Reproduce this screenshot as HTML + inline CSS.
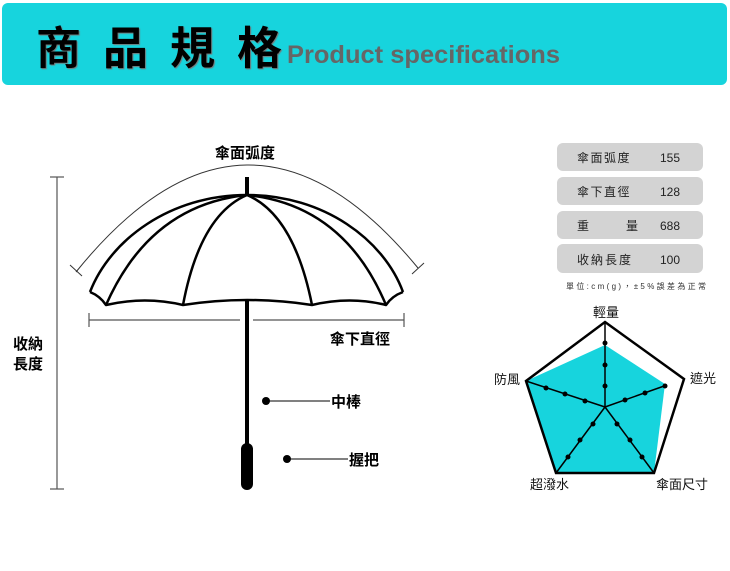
<!DOCTYPE html>
<html><head><meta charset="utf-8"><style>
body{margin:0;width:730px;height:566px;background:#fff;overflow:hidden;font-family:"Liberation Sans","Noto Sans CJK TC",sans-serif}
</style></head><body>
<svg width="730" height="566" viewBox="0 0 730 566" xmlns="http://www.w3.org/2000/svg" font-family="Liberation Sans, Noto Sans CJK TC, sans-serif">
<rect x="2" y="3" width="725" height="82" rx="6" fill="#17d4dd"/>
<text x="36" y="64" font-size="45" font-weight="bold" fill="#000" letter-spacing="22" font-family="Noto Sans CJK TC, sans-serif" style="text-shadow:1px 1px 1px #777">商品規格</text>
<text x="287" y="63" font-size="25" font-weight="bold" fill="#666" textLength="273" lengthAdjust="spacingAndGlyphs">Product specifications</text>

<!-- arc -->
<path d="M76,272 Q247,60 418,268" fill="none" stroke="#333" stroke-width="1"/>
<line x1="70" y1="265" x2="82" y2="276" stroke="#333"/>
<line x1="412" y1="274" x2="424" y2="263" stroke="#333"/>
<text x="215" y="158" font-size="15" font-weight="bold">傘面弧度</text>
<!-- tip -->
<line x1="247" y1="177" x2="247" y2="196" stroke="#000" stroke-width="4"/>
<!-- canopy -->
<g fill="none" stroke="#000" stroke-width="2.5" stroke-linejoin="round">
<path d="M90,292 C110,240 170,195 247,195 C324,195 384,240 403,292"/>
<path d="M90,292 Q100,296 106,305 Q145,296 183,305 Q247,295 312,305 Q350,296 386,305 Q392,296 403,292"/>
<path d="M106,305 Q150,205 247,195"/>
<path d="M386,305 Q344,205 247,195"/>
<path d="M183,305 Q200,215 247,195"/>
<path d="M312,305 Q294,215 247,195"/>
</g>
<!-- diameter -->
<g stroke="#555" stroke-width="1.2">
<line x1="89" y1="320" x2="240" y2="320"/><line x1="253" y1="320" x2="404" y2="320"/>
<line x1="89" y1="313" x2="89" y2="327"/><line x1="404" y1="313" x2="404" y2="327"/>
</g>
<text x="330" y="344" font-size="15" font-weight="bold">傘下直徑</text>
<!-- shaft -->
<line x1="247" y1="300" x2="247" y2="446" stroke="#000" stroke-width="4"/>
<rect x="241" y="443" width="12" height="47" rx="6" fill="#000"/>
<circle cx="266" cy="401" r="4" fill="#000"/><line x1="266" y1="401" x2="330" y2="401" stroke="#000"/>
<text x="331" y="407" font-size="15" font-weight="bold">中棒</text>
<circle cx="287" cy="459" r="4" fill="#000"/><line x1="287" y1="459" x2="348" y2="459" stroke="#000"/>
<text x="349" y="465" font-size="15" font-weight="bold">握把</text>
<!-- vertical -->
<g stroke="#555" stroke-width="1.2">
<line x1="57" y1="177" x2="57" y2="489"/><line x1="50" y1="177" x2="64" y2="177"/><line x1="50" y1="489" x2="64" y2="489"/>
</g>
<text x="13" y="349" font-size="15" font-weight="bold">收納</text>
<text x="13" y="369" font-size="15" font-weight="bold">長度</text>

<!-- table -->
<g font-size="12" fill="#222">
<rect x="557" y="143" width="146" height="28" rx="6" fill="#d3d3d3"/>
<text x="577" y="162" letter-spacing="1.5">傘面弧度</text><text x="660" y="162">155</text>
<rect x="557" y="177" width="146" height="28" rx="6" fill="#d3d3d3"/>
<text x="577" y="196" letter-spacing="1.5">傘下直徑</text><text x="660" y="196">128</text>
<rect x="557" y="211" width="146" height="28" rx="6" fill="#d3d3d3"/>
<text x="577" y="230">重</text><text x="626" y="230">量</text><text x="660" y="230">688</text>
<rect x="557" y="244" width="146" height="29" rx="6" fill="#d3d3d3"/>
<text x="577" y="264" letter-spacing="2">收納長度</text><text x="660" y="264">100</text>
</g>
<text x="566" y="289" font-size="8" fill="#333" textLength="140" lengthAdjust="spacing">單位:cm(g)，±5%誤差為正常</text>

<!-- radar -->
<polygon points="605,345 665,384 654,473 556,473 526,381" fill="#17d4dd"/>
<polygon points="605,322 684,379 654,473 556,473 526,381" fill="none" stroke="#000" stroke-width="2.5" stroke-linejoin="miter"/>
<g stroke="#000" stroke-width="1.5">
<line x1="605" y1="407" x2="605" y2="322"/><line x1="605" y1="407" x2="526" y2="381"/>
<line x1="605" y1="407" x2="667" y2="385"/><line x1="605" y1="407" x2="556" y2="473"/><line x1="605" y1="407" x2="654" y2="473"/>
</g>
<g fill="#000">
<circle cx="605" cy="386" r="2.5"/><circle cx="605" cy="365" r="2.5"/><circle cx="605" cy="343" r="2.5"/>
<circle cx="585" cy="401" r="2.5"/><circle cx="565" cy="394" r="2.5"/><circle cx="546" cy="388" r="2.5"/>
<circle cx="625" cy="400" r="2.5"/><circle cx="645" cy="393" r="2.5"/><circle cx="665" cy="386" r="2.5"/>
<circle cx="593" cy="424" r="2.5"/><circle cx="580" cy="440" r="2.5"/><circle cx="568" cy="457" r="2.5"/>
<circle cx="617" cy="424" r="2.5"/><circle cx="630" cy="440" r="2.5"/><circle cx="642" cy="457" r="2.5"/>
</g>
<g font-size="13" fill="#111">
<text x="593" y="317">輕量</text>
<text x="494" y="384">防風</text>
<text x="690" y="383">遮光</text>
<text x="530" y="489">超潑水</text>
<text x="656" y="489">傘面尺寸</text>
</g>
</svg>
</body></html>
